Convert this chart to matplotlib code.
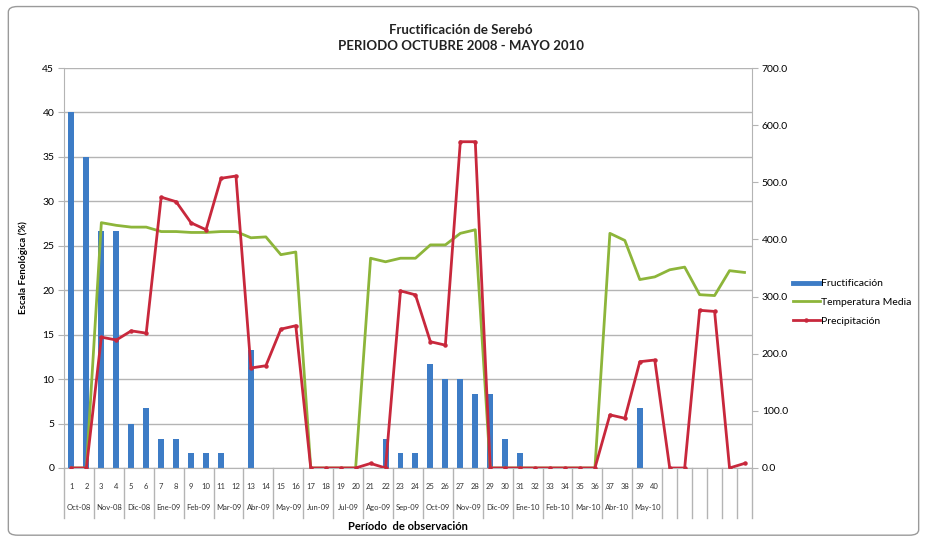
import matplotlib.pyplot as plt
from matplotlib.lines import Line2D
from matplotlib.patches import FancyBboxPatch
import matplotlib.transforms as mtransforms

plt.rcParams['font.family'] = ['Lato', 'DejaVu Sans']

# periodos de observacion (46 categorias, 41-46 sin etiqueta)
periodos = list(range(1, 47))
num_labels = [str(i) for i in range(1, 41)] + [''] * 6
meses = ['Oct-08', 'Nov-08', 'Dic-08', 'Ene-09', 'Feb-09', 'Mar-09', 'Abr-09', 'May-09',
         'Jun-09', 'Jul-09', 'Ago-09', 'Sep-09', 'Oct-09', 'Nov-09', 'Dic-09', 'Ene-10',
         'Feb-10', 'Mar-10', 'Abr-10', 'May-10']

fructificacion = [40, 35, 26.7, 26.7, 5, 6.7, 3.3, 3.3, 1.7, 1.7,
                  1.7, 0, 13.3, 0, 0, 0, 0, 0, 0, 0,
                  0, 3.3, 1.7, 1.7, 11.7, 10, 10, 8.3, 8.3, 3.3,
                  1.7, 0, 0, 0, 0, 0, 0, 0, 6.7, 0,
                  0, 0, 0, 0, 0, 0]

temperatura = [0, 0, 27.6, 27.3, 27.1, 27.1, 26.6, 26.6, 26.5, 26.5,
               26.6, 26.6, 25.9, 26.0, 24.0, 24.3, 0, 0, 0, 0,
               23.6, 23.2, 23.6, 23.6, 25.1, 25.1, 26.4, 26.8, 0, 0,
               0, 0, 0, 0, 0, 0, 26.4, 25.6, 21.2, 21.5,
               22.3, 22.6, 19.5, 19.4, 22.2, 22.0]

precipitacion = [0, 0, 229, 224, 240, 236, 474, 466, 429, 417,
                 507, 511, 175, 179, 243, 249, 0, 0, 0, 0,
                 8, 0, 310, 303, 221, 215, 571, 571, 0, 0,
                 0, 0, 0, 0, 0, 0, 93, 87, 186, 189,
                 0, 0, 276, 274, 0, 8]

c_bar = '#3D7CC6'
c_temp = '#8DB53A'
c_prec = '#C8283C'
c_grid = '#B4B4B4'

fig = plt.figure(figsize=(9.27, 5.45), dpi=100)
ax = fig.add_axes([0.069, 0.1413, 0.7422, 0.7339])
ax2 = ax.twinx()

ax.bar(periodos, fructificacion, width=0.4, color=c_bar, zorder=2)
ax.plot(periodos, temperatura, color=c_temp, lw=2, zorder=3)
ax2.plot(periodos, precipitacion, color=c_prec, lw=2, marker='o', ms=2.2,
         markeredgecolor=c_prec)

ax.set_xlim(0.5, 46.5)
ax.set_ylim(0, 45)
ax.set_yticks(range(0, 46, 5))
ax2.set_ylim(0, 700)
ax2.set_yticks(range(0, 701, 100))
ax2.set_yticklabels(['%.1f' % v for v in range(0, 701, 100)])

ax.yaxis.grid(True, color=c_grid, lw=1)
ax.set_axisbelow(True)

for a in (ax, ax2):
    a.spines['top'].set_visible(False)
    for s in ('left', 'right', 'bottom'):
        a.spines[s].set_color(c_grid)
    a.tick_params(axis='y', length=4, color=c_grid, labelsize=7.5, pad=3)
ax.spines['right'].set_visible(False)
ax2.spines['left'].set_visible(False)
ax2.spines['bottom'].set_visible(False)

ax.set_xticks(periodos)
ax.set_xticklabels(num_labels, fontsize=5.5, color='#333333')
ax.tick_params(axis='x', length=0, pad=11)

# segunda fila: meses y lineas divisorias
trans = mtransforms.blended_transform_factory(ax.transData, ax.transAxes)
for k, m in enumerate(meses):
    ax.text(2 * k + 1.5, -0.1, m, transform=trans, ha='center', va='center',
            fontsize=5.5, color='#333333')
bordes = [0.5 + 2 * k for k in range(21)] + [40.5 + k for k in range(1, 7)]
for b in bordes:
    ax.plot([b, b], [0, -0.125], transform=trans, color=c_grid, lw=1, clip_on=False)

ax.set_ylabel('Escala Fenológica (%)', fontsize=7, fontweight='bold', labelpad=10)
ax.set_xlabel('Período  de observación', fontsize=8, fontweight='bold', labelpad=22)

fig.text(0.497, 0.945, 'Fructificación de Serebó', ha='center', va='center',
         fontsize=9.5, fontweight='bold', color='#222222')
fig.text(0.497, 0.915, 'PERIODO OCTUBRE 2008 - MAYO 2010', ha='center', va='center',
         fontsize=9.5, fontweight='bold', color='#222222')

handles = [Line2D([], [], color=c_bar, lw=3.5),
           Line2D([], [], color=c_temp, lw=2),
           Line2D([], [], color=c_prec, lw=2, marker='o', ms=2.2)]
fig.legend(handles, ['Fructificación', 'Temperatura Media', 'Precipitación'],
           loc='center left', bbox_to_anchor=(0.845, 0.445), frameon=False,
           fontsize=7.5, handlelength=2.6, handletextpad=0.15, labelspacing=0.9)

fig.patches.append(FancyBboxPatch((0.009, 0.018), 0.982, 0.97,
                                  boxstyle='round,pad=0,rounding_size=0.01',
                                  transform=fig.transFigure, fill=False,
                                  edgecolor='#9A9A9A', lw=1))

fig.savefig('out.png', dpi=100)
